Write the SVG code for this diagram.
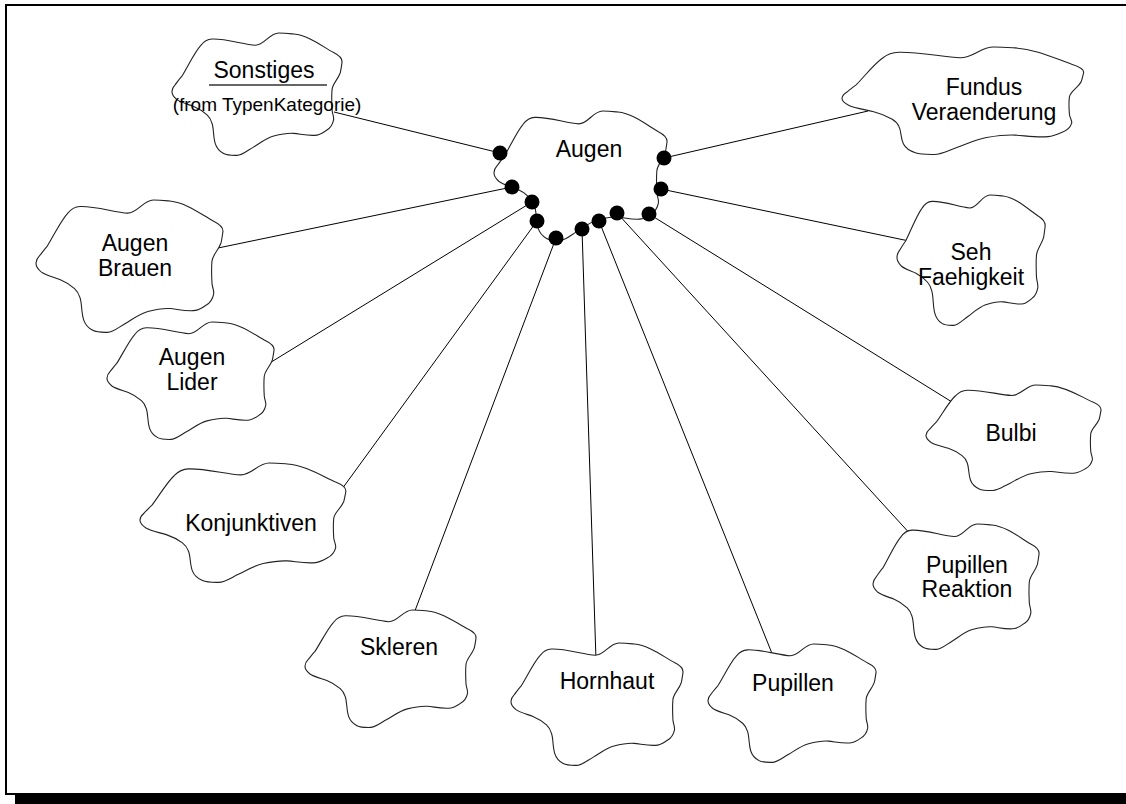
<svg xmlns="http://www.w3.org/2000/svg" xmlns:xlink="http://www.w3.org/1999/xlink" width="1126" height="804" viewBox="0 0 1126 804">
  <style>
    .frame { fill: none; stroke: #000; stroke-width: 2; }
    .shadow { fill: #000; }
    .cloud { fill: #fff; stroke: #222; stroke-width: 1.1; vector-effect: non-scaling-stroke; }
    .conn line { stroke: #000; stroke-width: 1; }
    .dot { fill: #000; }
    .lbl { font-family: "Liberation Sans", Arial, sans-serif; font-size: 23px; fill: #000; text-anchor: middle; }
    .small { font-size: 19px; }
    .rule { stroke: #666; stroke-width: 1.8; }
  </style>
  <defs>
    <!-- category cloud outline in a 100x100 box -->
    <path id="cloud" class="cloud" d="M 16.6,10.4 C 18.5,7 20.5,5 23.4,4.9 C 32,4.5 42,9.5 48.7,9.9 C 54,10 57,0 62.4,0 C 66,0 69,0.5 71.2,0.8 C 80,2 88,11 94.5,15.9 C 97.5,18 99.8,21 99.4,24.1 C 99,28 98.8,30 98.4,32.3 C 97,38 94,41 93.6,46 C 93.2,52 93.4,57 93.6,62.5 C 93.8,66 94.8,68 94.5,70.7 C 94,74 93,77 90.6,78.9 C 88.5,81 87,82.5 84.8,83 C 80,84 75,82 71.2,81.6 C 67,81.2 63,82.5 59.5,83.8 C 55,85.5 51,90 47.8,92.6 C 44,95.6 41,99.5 38,99.5 C 34.5,99.6 32,99.4 30.2,98 C 27.5,96 26,93 25.3,89.9 C 24,84 24.5,78 23.4,73.4 C 22.8,70.5 22,68.5 20.5,66.6 C 18,63.5 15.5,61.3 12.7,59.7 C 9.5,58 5,56.5 2.9,54.2 C 1,52 -0.1,49.5 0,47.4 C 0.1,45 0.8,43.5 1.9,41.9 C 3,40 4.5,37 5.8,35.1 C 9,28 13,16 16.6,10.4 Z"/>
  </defs>

  <!-- page frame with drop shadow -->
  <rect class="frame" x="6" y="5" width="1130" height="789"/>
  <rect class="shadow" x="15" y="795" width="1111" height="9"/>

  <!-- dependency connectors -->
  <g id="connectors" class="conn">
    <line x1="500" y1="153" x2="334" y2="112"/>
    <line x1="512" y1="187" x2="218" y2="248"/>
    <line x1="532" y1="202" x2="268" y2="364"/>
    <line x1="537" y1="221" x2="334" y2="500"/>
    <line x1="556" y1="238" x2="413" y2="616"/>
    <line x1="582" y1="229" x2="596" y2="660"/>
    <line x1="599" y1="221" x2="773" y2="656"/>
    <line x1="617" y1="213" x2="913" y2="537"/>
    <line x1="649" y1="214" x2="952" y2="402"/>
    <line x1="661" y1="189" x2="909" y2="241"/>
    <line x1="664" y1="158" x2="868" y2="111"/>
  </g>

  <g id="sonstiges">
    <use xlink:href="#cloud" transform="translate(172,33) scale(1.71,1.23)"/>
    <text class="lbl" x="264" y="78">Sonstiges</text>
    <line class="rule" x1="209" y1="85" x2="327" y2="85"/>
    <text class="lbl small" x="267" y="111">(from TypenKategorie)</text>
  </g>

  <g id="fundus-veraenderung">
    <use xlink:href="#cloud" transform="translate(842,47) scale(2.43,1.08)"/>
    <text class="lbl" x="984" y="95">Fundus</text>
    <text class="lbl" x="984" y="120">Veraenderung</text>
  </g>

  <g id="augen-brauen">
    <use xlink:href="#cloud" transform="translate(36,200) scale(1.88,1.33)"/>
    <text class="lbl" x="135" y="251">Augen</text>
    <text class="lbl" x="135" y="276">Brauen</text>
  </g>

  <g id="seh-faehigkeit">
    <use xlink:href="#cloud" transform="translate(897,195) scale(1.49,1.31)"/>
    <text class="lbl" x="971" y="260">Seh</text>
    <text class="lbl" x="971" y="285">Faehigkeit</text>
  </g>

  <g id="augen-lider">
    <use xlink:href="#cloud" transform="translate(107,322) scale(1.68,1.18)"/>
    <text class="lbl" x="192" y="365">Augen</text>
    <text class="lbl" x="192" y="390">Lider</text>
  </g>

  <g id="bulbi">
    <use xlink:href="#cloud" transform="translate(926,385) scale(1.76,1.06)"/>
    <text class="lbl" x="1011" y="441">Bulbi</text>
  </g>

  <g id="konjunktiven">
    <use xlink:href="#cloud" transform="translate(140,463) scale(2.07,1.20)"/>
    <text class="lbl" x="251" y="531">Konjunktiven</text>
  </g>

  <g id="pupillen-reaktion">
    <use xlink:href="#cloud" transform="translate(873,524) scale(1.67,1.26)"/>
    <text class="lbl" x="967" y="573">Pupillen</text>
    <text class="lbl" x="967" y="597">Reaktion</text>
  </g>

  <g id="skleren">
    <use xlink:href="#cloud" transform="translate(305,610) scale(1.72,1.18)"/>
    <text class="lbl" x="399" y="655">Skleren</text>
  </g>

  <g id="hornhaut">
    <use xlink:href="#cloud" transform="translate(511,643) scale(1.73,1.23)"/>
    <text class="lbl" x="607" y="689">Hornhaut</text>
  </g>

  <g id="pupillen">
    <use xlink:href="#cloud" transform="translate(708,644) scale(1.69,1.19)"/>
    <text class="lbl" x="793" y="691">Pupillen</text>
  </g>

  <g id="augen">
    <use xlink:href="#cloud" transform="translate(494,111) scale(1.74,1.30)"/>
    <text class="lbl" x="589" y="157">Augen</text>
    <!-- association ends -->
    <circle class="dot" cx="500" cy="153" r="7.5"/>
    <circle class="dot" cx="512" cy="187" r="7.5"/>
    <circle class="dot" cx="532" cy="202" r="7.5"/>
    <circle class="dot" cx="537" cy="221" r="7.5"/>
    <circle class="dot" cx="556" cy="238" r="7.5"/>
    <circle class="dot" cx="582" cy="229" r="7.5"/>
    <circle class="dot" cx="599" cy="221" r="7.5"/>
    <circle class="dot" cx="617" cy="213" r="7.5"/>
    <circle class="dot" cx="649" cy="214" r="7.5"/>
    <circle class="dot" cx="661" cy="189" r="7.5"/>
    <circle class="dot" cx="664" cy="158" r="7.5"/>
  </g>
</svg>
